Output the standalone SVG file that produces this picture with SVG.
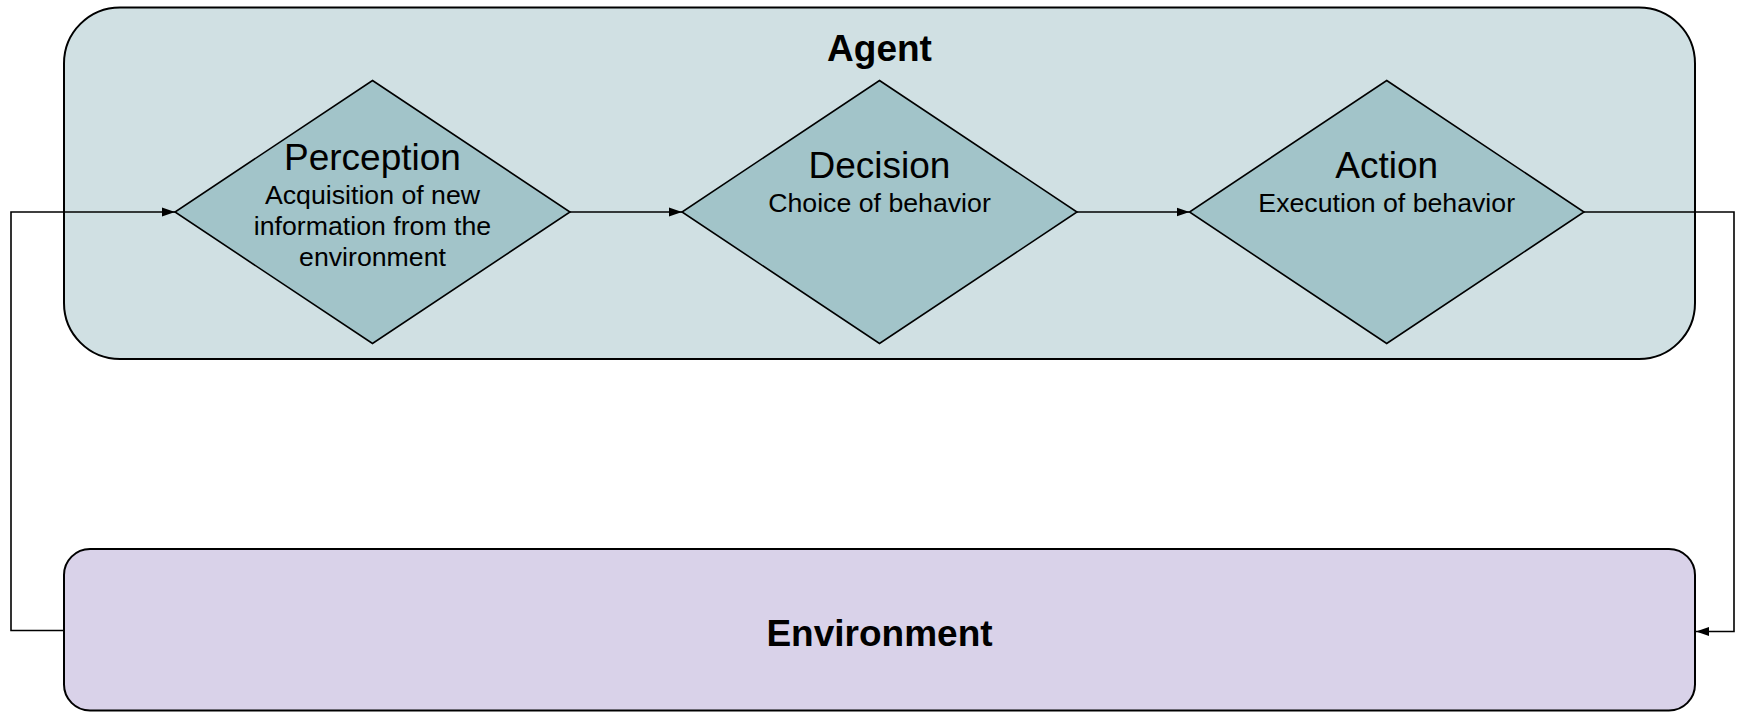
<svg xmlns="http://www.w3.org/2000/svg" width="1741" height="712" viewBox="0 0 1741 712">
  <style>
    .panel { stroke: #000; stroke-width: 2; }
    .agent { fill: #d0e0e3; }
    .env { fill: #d9d2e9; }
    .step { fill: #a2c4c9; stroke: #000; stroke-width: 1.6; }
    .title { font-family: "Liberation Sans", Arial, sans-serif; font-size: 37px; fill: #000; text-anchor: middle; }
    .sub { font-family: "Liberation Sans", Arial, sans-serif; font-size: 26.7px; fill: #000; text-anchor: middle; }
    .bold { font-weight: bold; }
    .link { fill: none; stroke: #000; stroke-width: 1.6; marker-end: url(#arrow); }
  </style>
  <defs>
    <marker id="arrow" markerUnits="userSpaceOnUse" markerWidth="14" markerHeight="12" refX="13" refY="6" orient="auto">
      <path d="M0,1.5 L13,6 L0,10.5 Z" fill="#000"/>
    </marker>
  </defs>

  <rect width="1741" height="712" fill="#fff"/>

  <!-- Agent container -->
  <g id="agent">
    <rect class="panel agent" x="64" y="7.5" width="1631" height="351.5" rx="56" ry="56"/>
    <text class="title bold" x="879.5" y="61">Agent</text>
  </g>

  <!-- Environment container -->
  <g id="environment">
    <rect class="panel env" x="64" y="549" width="1631" height="161.5" rx="26" ry="26"/>
    <text class="title bold" x="879.5" y="646">Environment</text>
  </g>

  <!-- Perception step -->
  <g id="perception">
    <polygon class="step" points="372.5,80.5 570,212 372.5,343.5 175,212"/>
    <text class="title" x="372.5" y="170">Perception</text>
    <text class="sub" x="372.5" y="204">Acquisition of new</text>
    <text class="sub" x="372.5" y="235">information from the</text>
    <text class="sub" x="372.5" y="266">environment</text>
  </g>

  <!-- Decision step -->
  <g id="decision">
    <polygon class="step" points="879.5,80.5 1077,212 879.5,343.5 682,212"/>
    <text class="title" x="879.5" y="178">Decision</text>
    <text class="sub" x="879.5" y="212">Choice of behavior</text>
  </g>

  <!-- Action step -->
  <g id="action">
    <polygon class="step" points="1386.7,80.5 1584,212 1386.7,343.5 1189.5,212"/>
    <text class="title" x="1386.7" y="178">Action</text>
    <text class="sub" x="1386.7" y="212">Execution of behavior</text>
  </g>

  <!-- Connectors -->
  <g id="connectors">
    <path class="link" d="M64,630.5 H11 V212 H175"/>
    <path class="link" d="M570,212 H682"/>
    <path class="link" d="M1077,212 H1189.5"/>
    <path class="link" d="M1584,212 H1734 V631.5 H1696"/>
  </g>
</svg>
